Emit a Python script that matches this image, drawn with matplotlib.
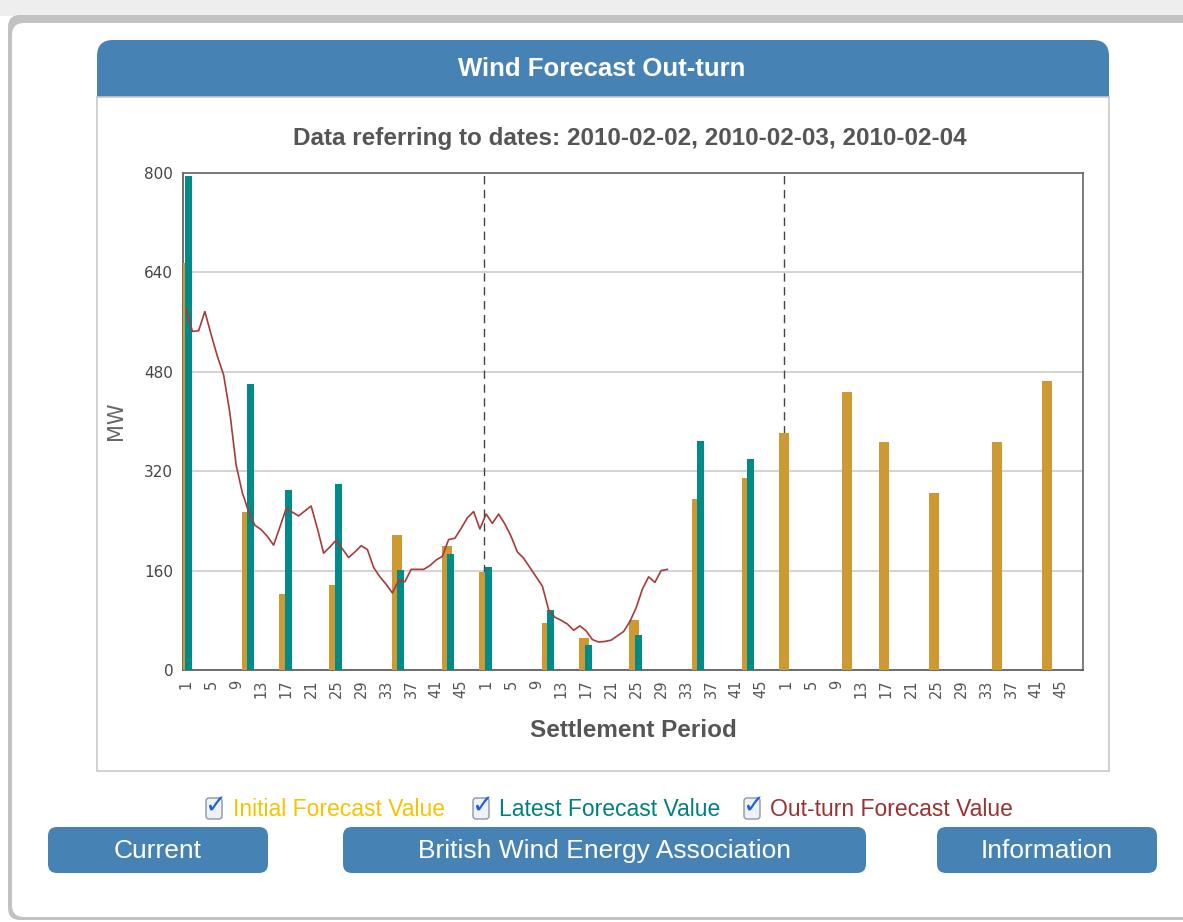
import numpy as np
import matplotlib

matplotlib.use("Agg")
import matplotlib.pyplot as plt
from matplotlib.patches import FancyBboxPatch, Rectangle


W, H = 1183, 922

# periods per day and the periods that carry forecast bars
PERIODS_PER_DAY = 48
DATES = ["2010-02-02", "2010-02-03", "2010-02-04"]
BAR_PERIODS = [1, 11, 17, 25, 35, 43]

# initial forecast (MW), one list per day
initial_day1 = [655, 254, 122, 137, 217, 200]
initial_day2 = [158, 76, 51, 80, 275, 309]
initial_day3 = [381, 447, 367, 285, 367, 465]

# latest forecast (MW), day 3 has none yet
latest_day1 = [795, 460, 290, 300, 161, 187]
latest_day2 = [165, 97, 40, 56, 369, 340]

# out-turn (MW), half-hourly from day 1 period 1 onwards
outturn = [
    582, 545, 546, 577, 540, 505, 475, 414, 330, 285,
    255, 233, 226, 215, 201, 230, 260, 254, 248, 256,
    264, 228, 188, 198, 209, 195, 181, 190, 200, 194,
    165, 150, 138, 124, 144, 142, 162, 162, 162, 168,
    177, 183, 210, 212, 228, 245, 255, 227, 251, 236,
    251, 235, 215, 190, 180, 165, 150, 135, 97, 85,
    80, 74, 64, 71, 63, 49, 45, 46, 48, 55,
    62, 78, 100, 130, 150, 141, 160, 162,
]

Y_TICKS = [0, 160, 320, 480, 640, 800]
TICK_PERIODS = list(range(1, 46, 4))

C_INITIAL = "#CC9933"
C_LATEST = "#008B8B"
C_OUTTURN = "#A83A3A"
C_BLUE = "#4682B4"


def fx(x):
    return x / W


def fy(y):
    return 1 - y / H


def main():
    fig = plt.figure(figsize=(W / 100, H / 100), dpi=100)
    fig.patch.set_facecolor("white")

    # page furniture drawn in pixel coordinates
    bg = fig.add_axes([0, 0, 1, 1])
    bg.set_xlim(0, W)
    bg.set_ylim(H, 0)
    bg.axis("off")
    bg.add_patch(Rectangle((0, 0), W, 16, facecolor="#EEEEEE", edgecolor="none"))
    bg.add_patch(FancyBboxPatch((8, 15), W + 40, 905, boxstyle="round,pad=0,rounding_size=12",
                                facecolor="#C2C2C2", edgecolor="none"))
    bg.add_patch(FancyBboxPatch((12, 23), W + 30, 894, boxstyle="round,pad=0,rounding_size=12",
                                facecolor="white", edgecolor="none"))

    # title bar
    bg.add_patch(FancyBboxPatch((97, 40), 1012, 57, boxstyle="round,pad=0,rounding_size=16",
                                facecolor=C_BLUE, edgecolor="none"))
    bg.add_patch(Rectangle((97, 75), 1012, 22, facecolor=C_BLUE, edgecolor="none"))
    bg.text(602, 69, "Wind Forecast Out-turn", color="white", fontsize=18.5, fontweight="bold",
            family="Liberation Sans", ha="center", va="center")

    # chart frame
    bg.add_patch(Rectangle((97, 97), 1012, 674, facecolor="white", edgecolor="#C8C8C8", linewidth=1.2))
    bg.text(630, 139, "Data referring to dates: " + ", ".join(DATES), color="#555555", fontsize=17.5,
            fontweight="bold", family="Liberation Sans", ha="center", va="center")

    # legend with check boxes
    legend = [
        (206, 233, "Initial Forecast Value", "#F5C400"),
        (473, 499, "Latest Forecast Value", "#008080"),
        (744, 770, "Out-turn Forecast Value", "#993333"),
    ]
    for bx, tx, label, color in legend:
        bg.add_patch(FancyBboxPatch((bx, 798), 16, 21, boxstyle="round,pad=0,rounding_size=3",
                                    facecolor="#EEF1F5", edgecolor="#8A97A8", linewidth=1))
        bg.text(bx + 9, 806, "\u2713", color="#1E5EE0", fontsize=19, fontweight="bold",
                family="DejaVu Sans", ha="center", va="center")
        bg.text(tx, 809, label, color=color, fontsize=16.5, family="Liberation Sans",
                ha="left", va="center")

    # buttons
    buttons = [(48, 220, "Current"), (343, 523, "British Wind Energy Association"), (937, 220, "Information")]
    for bx, bw, label in buttons:
        bg.add_patch(FancyBboxPatch((bx, 827), bw, 46, boxstyle="round,pad=0,rounding_size=9",
                                    facecolor=C_BLUE, edgecolor="none"))
        bg.text(bx + bw / 2, 851, label, color="white", fontsize=19, family="Liberation Sans",
                ha="center", va="center")

    # main chart
    left, right, top, bottom = 183, 1083, 173, 670
    ax = fig.add_axes([fx(left), fy(bottom), fx(right - left), (bottom - top) / H])
    ax.set_facecolor("white")

    initial = [initial_day1, initial_day2, initial_day3]
    latest = [latest_day1, latest_day2]
    for d, vals in enumerate(initial):
        xs = [d * PERIODS_PER_DAY + p - 1 - 0.3 for p in BAR_PERIODS]
        ax.bar(xs, vals, width=1.6, color=C_INITIAL, zorder=3)
    for d, vals in enumerate(latest):
        xs = [d * PERIODS_PER_DAY + p - 1 + 0.35 for p in BAR_PERIODS]
        ax.bar(xs, vals, width=1.1, color=C_LATEST, zorder=4)

    ax.plot(np.arange(len(outturn)), outturn, color=C_OUTTURN, linewidth=1.2, zorder=5)

    for d in range(1, len(DATES)):
        ax.axvline(d * PERIODS_PER_DAY - 0.4, color="#444444", linestyle=(0, (6, 4)),
                   linewidth=1.0, zorder=2)

    ax.set_xlim(-0.5, len(DATES) * PERIODS_PER_DAY - 0.5)
    ax.set_ylim(0, 800)
    ax.set_yticks(Y_TICKS)
    ax.set_yticklabels([str(v) for v in Y_TICKS], fontsize=11, color="#444444")
    ax.yaxis.grid(True, color="#CCCCCC", linewidth=1.2, zorder=1)
    ax.set_axisbelow(True)

    tick_pos = []
    tick_lab = []
    for d in range(len(DATES)):
        for p in TICK_PERIODS:
            tick_pos.append(d * PERIODS_PER_DAY + p - 1)
            tick_lab.append(str(p))
    ax.set_xticks(tick_pos)
    ax.set_xticklabels(tick_lab, rotation=90, fontsize=10.5, color="#555555")
    ax.tick_params(axis="both", length=0)
    ax.tick_params(axis="x", pad=7)
    ax.tick_params(axis="y", pad=7)

    for side in ["left", "bottom"]:
        ax.spines[side].set_color("#555555")
        ax.spines[side].set_linewidth(1.2)
    for side in ["top", "right"]:
        ax.spines[side].set_color("#666666")
        ax.spines[side].set_linewidth(1.2)

    bg.text(116, 421, "MW", color="#666666", fontsize=15, rotation=90, ha="center", va="center")
    bg.text(633, 730, "Settlement Period", color="#555555", fontsize=17.5, fontweight="bold",
            family="Liberation Sans", ha="center", va="center")

    fig.savefig("out.png", dpi=100)
    plt.close(fig)


if __name__ == "__main__":
    main()
